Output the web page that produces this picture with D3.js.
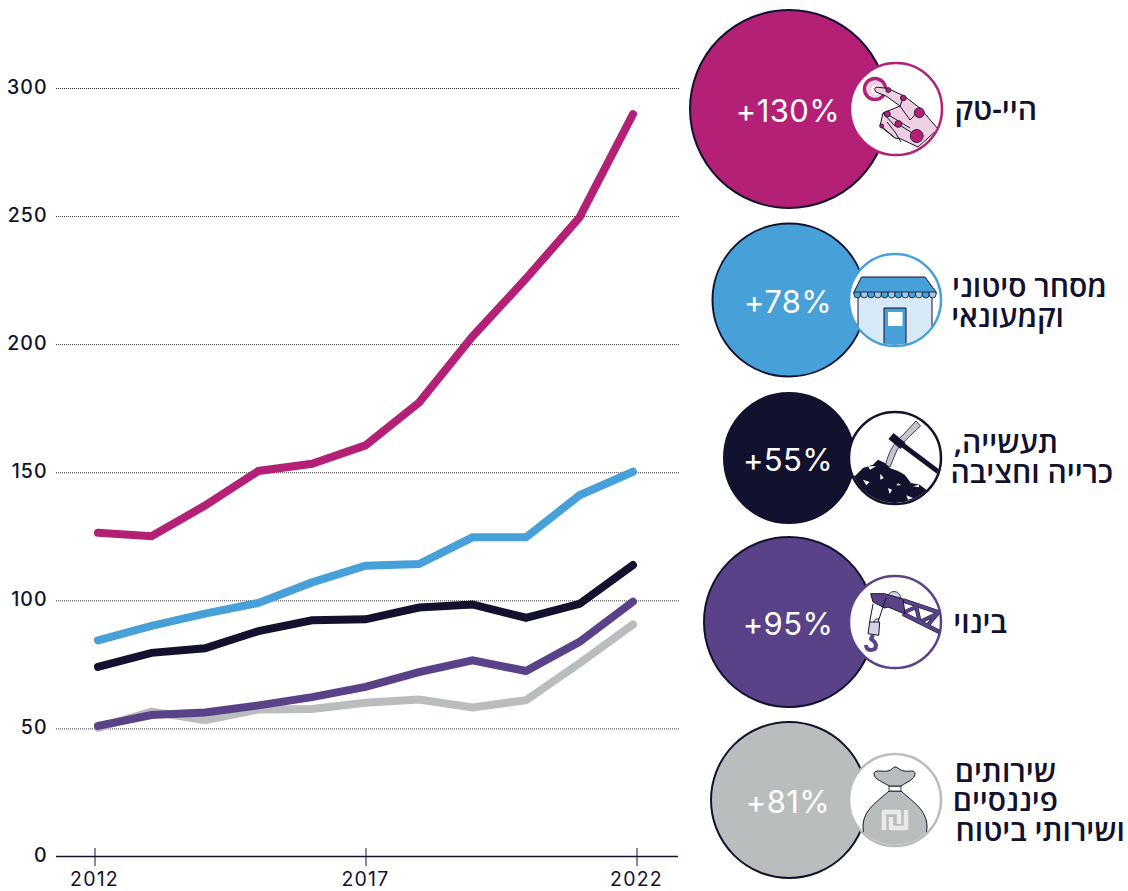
<!DOCTYPE html>
<html lang="he"><head><meta charset="utf-8">
<script src="https://cdn.jsdelivr.net/npm/d3@7"></script>
<style>
html,body{margin:0;padding:0;background:#fff}
svg{display:block}
text{font-family:"Noto Sans","Open Sans",sans-serif}
</style></head><body>
<svg id="c" width="1128" height="891"></svg>
<script>
const years=[2012,2013,2014,2015,2016,2017,2018,2019,2020,2021,2022];
const tickYears=[2012,2017,2022];
const yTicks=[0,50,100,150,200,250,300];
const hightech=[126.4,125,137,150.5,153.3,160.5,177.2,203,225.6,249.5,289.8];
const trade=[84.4,90,94.8,99,107,113.5,114.2,124.6,124.6,141,150.2];
const industry=[74,79.5,81.3,88,92.2,92.6,97.2,98.4,93.2,98.6,113.8];
const construction=[51,55.2,56.2,59,62.2,66.2,72,76.6,72.4,83.8,99.5];
const finance=[50.2,56.6,53.2,57.4,57.6,60,61.3,58.2,61,75.4,90.6];
const growth=["+130%","+78%","+55%","+95%","+81%"];
const labels=[["היי-טק"],["מסחר סיטוני","וקמעונאי"],["תעשייה,","כרייה וחציבה"],["בינוי"],["שירותים","פיננסיים","ושירותי ביטוח"]];
const colors=["#b32075","#48a0d8","#12122f","#594288","#babdbd"];
const ink="#12122f";

const svg=d3.select("#c");
const y=d3.scaleLinear().domain([0,300]).range([856.5,88]);
const xAxisScale=d3.scaleLinear().domain([2012,2022]).range([95,637]);
const xLine=d3.scaleLinear().domain([2012,2022]).range([98,633]);
const numFont="Inter";

svg.append("g").selectAll("line").data(yTicks.filter(d=>d>0)).join("line")
 .attr("x1",56).attr("x2",679).attr("y1",d=>y(d)+.5).attr("y2",d=>y(d)+.5)
 .attr("stroke","#333").attr("stroke-width",1).attr("stroke-dasharray","1 1");
svg.append("g").selectAll("text").data(yTicks).join("text")
 .attr("x",47.5).attr("y",d=>y(d)+5.5).attr("text-anchor","end")
 .attr("font-size",19.5).attr("fill",ink).style("font-family",numFont).attr("font-weight",500).attr("letter-spacing",1).text(d=>d);
svg.append("line").attr("x1",56).attr("x2",678).attr("y1",856.5).attr("y2",856.5).attr("stroke",ink).attr("stroke-width",1.5);
const xa=svg.append("g").selectAll("g").data(tickYears).join("g");
xa.append("line").attr("x1",d=>xAxisScale(d)).attr("x2",d=>xAxisScale(d)).attr("y1",848).attr("y2",866).attr("stroke",ink).attr("stroke-width",1);
xa.append("text").attr("x",d=>xAxisScale(d)-.5).attr("y",886).attr("text-anchor","middle").attr("font-size",19.5).attr("fill",ink).style("font-family",numFont).attr("letter-spacing",1.2).text(d=>d);

const series=[[finance,colors[4]],[hightech,colors[0]],[trade,colors[1]],[industry,colors[2]],[construction,colors[3]]];
const line=d3.line().x((d,i)=>xLine(years[i])).y(d=>y(d));
svg.append("g").selectAll("path").data(series).join("path")
 .attr("d",d=>line(d[0])).attr("fill","none").attr("stroke",d=>d[1]).attr("stroke-width",8)
 .attr("stroke-linecap","round").attr("stroke-linejoin","miter");

const cy=[109,300,458,622,800];
const bigR=[99,76.5,65,85,78];
const bx=[789,789,789,789,789];
const ix=[896,895,895,895,895];
const iconR=46;
const rows=svg.append("g").selectAll("g").data(growth).join("g");
rows.append("circle").attr("cx",(d,i)=>bx[i]).attr("cy",(d,i)=>cy[i]).attr("r",(d,i)=>bigR[i])
 .attr("fill",(d,i)=>colors[i]).attr("stroke",ink).attr("stroke-width",2);
rows.append("text").attr("x",(d,i)=>bx[i]-1).attr("y",(d,i)=>cy[i]+12.5)
 .attr("text-anchor","middle").attr("fill","#fff").attr("font-size",31).style("font-family",numFont).attr("font-weight",400).attr("letter-spacing",.4).text(d=>d);
rows.append("circle").attr("cx",(d,i)=>ix[i]).attr("cy",(d,i)=>cy[i]).attr("r",iconR)
 .attr("fill","#fff").attr("stroke",(d,i)=>colors[i]).attr("stroke-width",2.5);

const labelY=[[120],[297,327],[453,483],[633],[782,811,841]];
const labelRight=[[1037],[1107,1064],[1058,1113],[1007],[1056,1058,1125]];
rows.each(function(d,i){
 const g=d3.select(this);
 labels[i].forEach((t,j)=>{
  g.append("text").attr("x",labelRight[i][j]).attr("y",labelY[i][j]).attr("text-anchor","start")
   .style("direction","rtl").attr("font-size",30).attr("font-weight",600).attr("fill",ink).text(t);
 });
});

function clip(id,cx,cy){svg.append("clipPath").attr("id",id).append("circle").attr("cx",cx).attr("cy",cy).attr("r",iconR-1);}
const P=(g,d,f,s,w)=>g.append("path").attr("d",d).attr("fill",f||"none").attr("stroke",s||"none").attr("stroke-width",w||1).attr("stroke-linejoin","round");
const C=(g,x,y,r,f,s,w)=>g.append("circle").attr("cx",x).attr("cy",y).attr("r",r).attr("fill",f).attr("stroke",s||"none").attr("stroke-width",w||1);

// hand
{clip("ch",896,109);const g=svg.append("g").attr("clip-path","url(#ch)").append("g").attr("transform","translate(896,109)");
 const m=colors[0],pale="#f0cfe2";
 C(g,-21,-20,10.5,"#fff",m,3.5);C(g,-21,-20,8,pale);C(g,-20,-19,5,"#fff");
 P(g,"M-20,-22 L-8,-20.5 L8,-13 L24,-1 L42,20 L22,38 L5,30 L-1,29 L-16,17 L-13,4 L4,-3 L-10,-13 L-20,-17 Q-23,-20 -20,-22 Z",pale,ink,1);
 P(g,"M7,-11 L4,-3 L14,11 L19,6 M-9,5 L14,19 M-13,4 L-1,17 M-15,17 L-1,29 M2,15 L21,27 M-9,13 L-1,23 L5,33",null,ink,1);
 C(g,-7.7,-19,2.5,m,ink,.8);C(g,7.3,-11,2.8,m,ink,.8);C(g,23.3,3.7,5,m,ink,.8);C(g,-8.7,5,3,m,ink,.8);C(g,2.3,15,3.4,m,ink,.8);C(g,20.7,27,6.5,m,ink,.8);C(g,-14.3,17,2,m,ink,.8);
}
// shop
{clip("cs",895,300);const g=svg.append("g").attr("clip-path","url(#cs)").append("g").attr("transform","translate(895,300)");
 const b=colors[1],pale="#d8eaf7";
 P(g,"M-37,-6 H37 V46 H-37 Z",pale,ink,1);
 P(g,"M-11,8 H11 V46 H-11 Z",b,ink,1);
 g.append("rect").attr("x",-7).attr("y",12).attr("width",14.5).attr("height",14).attr("fill","#fff");
 P(g,"M-33.5,-23 H30 L41,-8 V-6 H-41 V-8 Z",b,ink,1);
 d3.range(12).forEach(i=>{const w=82/12,x=-41+w*i;P(g,`M${x},-8 h${w} v2.5 a${w/2},${w/2} 0 0 1 ${-w},0 Z`,i%2?"#9ccbea":b,ink,.8);});
}
// pickaxe
{clip("cp",895,458);const g=svg.append("g").attr("clip-path","url(#cp)").append("g").attr("transform","translate(895,458)");
 P(g,"M21,-37 L25.5,-32 C15,-22 6,-14 2,-8 L-5,9 L-9.5,7 C-7,-4 -2,-15 8,-23 Z","#c6c6ca",ink,.8);
 P(g,"M-3,-21 L45,15",null,ink,5);
 P(g,"M-4,-22 L8,-12",null,ink,8);
 P(g,"M-46,18 L-40,18 L-32,10 L-22,6.7 L-17,1.7 L-10,5 L-5.3,10 L3,13 L9.7,16.7 L16,25 L24.7,26.7 L33,33 L31,40 L34,50 L-34,50 L-46,30 Z",ink);
 [[-27,8.3,-18.7,8.3,-25,11.7],[-14.7,15.7,-11.3,20,-14.7,21.7],[-32,21.7,-25.3,24,-28.7,27.3],[-7,30,-3,31.7,-5.3,36],[1.3,27.3,6.3,27.3,3,25.3],[11.3,37.3,18,40,13,41.7],[18,28.3,24,26.7,24,29.3]].forEach(t=>P(g,`M${t[0]},${t[1]} L${t[2]},${t[3]} L${t[4]},${t[5]} Z`,"#fff"));
}
// crane
{clip("cc",895,622);const g=svg.append("g").attr("clip-path","url(#cc)").append("g").attr("transform","translate(895,622)");
 const p=colors[3];
 C(g,-1,-24,6.5,"#d6d2e2",ink,.8);
 P(g,"M8,-21.7 L44.7,-9.3",null,ink,4.5);
 P(g,"M8,-8.3 L44.7,10",null,ink,4.5);
 P(g,"M9.7,-10 L21.3,-15 L24.7,0 L42.3,-8.3 L31.3,5",null,ink,4);
 P(g,"M9.7,-10 L21.3,-15 L24.7,0 L42.3,-8.3 L31.3,5",null,p,3);
 P(g,"M8,-21.7 L44.7,-9.3",null,p,3.5);
 P(g,"M8,-8.3 L44.7,10",null,p,3.5);
 P(g,"M-24.3,-28.3 L-10.3,-28.3 L8,-23 L10,-8 L-7,-15 L-10.3,-14 L-22,-20 Z",p,ink,1);
 P(g,"M-22,-18 L-25.3,0 M-8.7,-25 L-17,0",null,ink,1);
 P(g,"M-21,0 A4,4 0 0 1 -16,-3",null,ink,1);
 P(g,"M-25.3,0 L-15.3,0 L-16.3,13.3 L-27,11.7 Z","#d6d2e2",ink,1);
 P(g,"M-22,13 L-24,17 C-17,21 -18,28 -24,28 C-28,28 -29,25 -29,23",null,p,4);
}
// money bag
{clip("cb",895,800);const g=svg.append("g").attr("clip-path","url(#cb)").append("g").attr("transform","translate(895,800)");
 const s=colors[4];
 P(g,"M-6,-9 C-18,2 -32,10 -32,27 L-30,50 H30 L32,27 C32,10 18,2 6,-9 Z",s,ink,1);
 P(g,"M-6,-14 H6 V-9 H-6 Z","#fff",ink,.8);
 P(g,"M-6,-14 C-12,-18 -21,-21 -21,-26 C-21,-31 -14,-28 -7,-29 C-3,-30 -2,-33 0,-33 C3,-33 4,-30 9,-29 C14,-28 20,-31 20,-26 C20,-21 12,-18 6,-14 Z",s,ink,1);
 P(g,"M-11,30 V12 H4 V24 M11,10 V28 H-4 V17",null,"#e9eaea",4.5);
}
</script></body></html>
